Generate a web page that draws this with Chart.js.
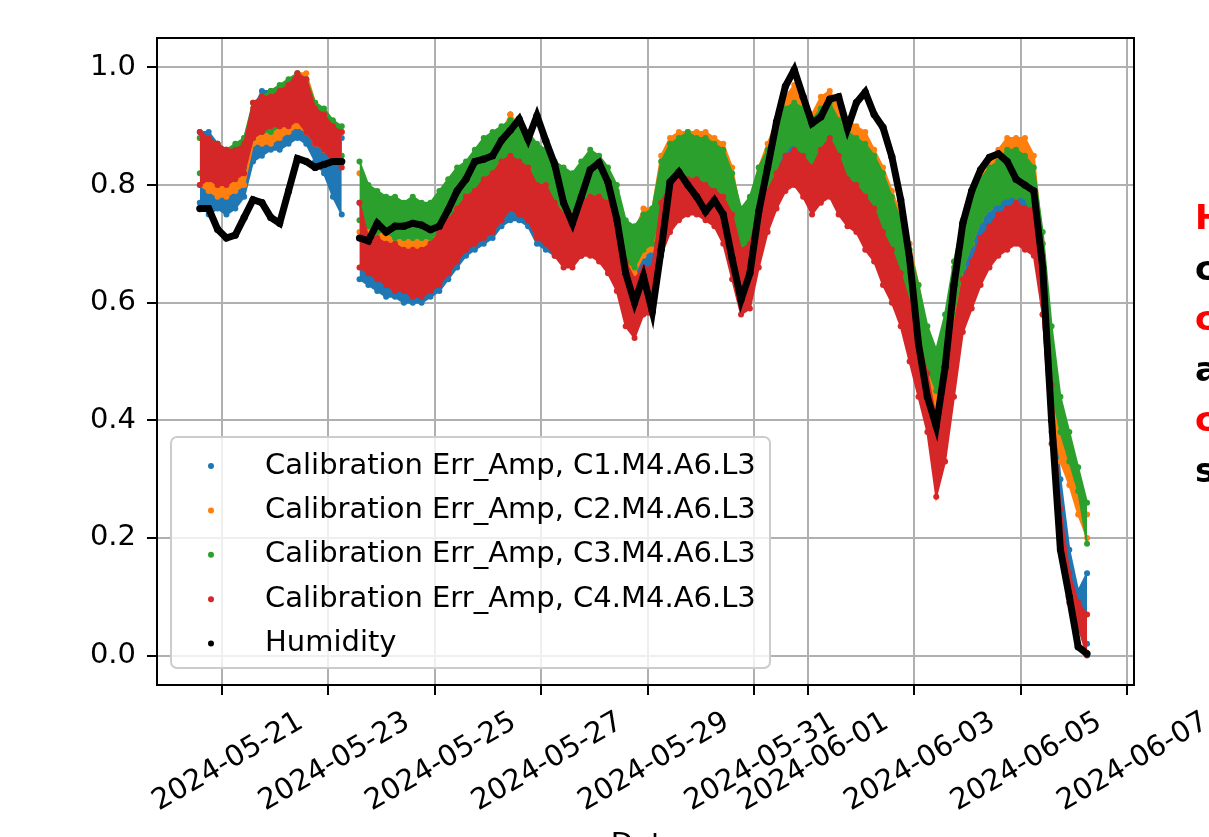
<!DOCTYPE html>
<html>
<head>
<meta charset="utf-8">
<title>Calibration Err_Amp vs Humidity</title>
<script src="https://cdn.jsdelivr.net/npm/chart.js@4.4.1/dist/chart.umd.min.js"></script>
<style>
  html, body { margin: 0; padding: 0; background: #fff; }
  #wrap { width: 1209px; height: 837px; overflow: hidden; }
</style>
</head>
<body>
<div id="wrap"><canvas id="errChart" width="1209" height="837"></canvas></div>
<script>
// samples every 4 hours, first one 2024-05-20 14:00 (UTC); null = logger gap
const startTime = Date.UTC(2024, 4, 20, 14);
const stepHours = 4;

const xTickDates = ["2024-05-21", "2024-05-23", "2024-05-25", "2024-05-27", "2024-05-29",
  "2024-05-31", "2024-06-01", "2024-06-03", "2024-06-05", "2024-06-07"];
const yTicks = [0.0, 0.2, 0.4, 0.6, 0.8, 1.0];
const xMin = Date.parse("2024-05-19T18:42:00Z");
const xMax = Date.parse("2024-06-07T03:10:00Z");

const humidity = [0.76, 0.76, 0.725, 0.71, 0.715, 0.745, 0.775, 0.77, 0.745, 0.735,
  0.79, 0.845, 0.84, 0.83, 0.835, 0.84, 0.84, null, 0.71, 0.705,
  0.735, 0.72, 0.73, 0.73, 0.735, 0.732, 0.724, 0.73, 0.758, 0.79,
  0.81, 0.84, 0.844, 0.85, 0.876, 0.893, 0.912, 0.878, 0.918, 0.875,
  0.835, 0.77, 0.735, 0.78, 0.826, 0.838, 0.805, 0.742, 0.65, 0.60,
  0.645, 0.585, 0.69, 0.805, 0.822, 0.80, 0.78, 0.755, 0.774, 0.75,
  0.675, 0.605, 0.65, 0.755, 0.83, 0.907, 0.968, 0.996, 0.95, 0.905,
  0.916, 0.946, 0.95, 0.896, 0.94, 0.958, 0.92, 0.898, 0.848, 0.775,
  0.675, 0.53, 0.44, 0.39, 0.49, 0.63, 0.735, 0.79, 0.826, 0.847,
  0.853, 0.84, 0.81, 0.80, 0.79, 0.66, 0.40, 0.18, 0.10, 0.015, 0.003];

// C1 (blue)
const c1Lo = [0.77, 0.75, 0.76, 0.75, 0.76, 0.78, 0.84, 0.85, 0.86, 0.86,
  0.87, 0.88, 0.87, 0.84, 0.82, 0.78, 0.75, null, 0.64, 0.63,
  0.62, 0.61, 0.61, 0.60, 0.60, 0.60, 0.61, 0.62, 0.64, 0.66,
  0.68, 0.69, 0.70, 0.71, 0.73, 0.74, 0.74, 0.73, 0.70, 0.69,
  0.68, 0.68, 0.68, 0.68, 0.69, 0.68, 0.67, 0.64, 0.58, 0.57,
  0.61, 0.61, 0.70, 0.74, 0.76, 0.76, 0.76, 0.75, 0.74, 0.72,
  0.66, 0.60, 0.62, 0.68, 0.74, 0.78, 0.81, 0.83, 0.80, 0.78,
  0.79, 0.80, 0.77, 0.75, 0.74, 0.72, 0.70, 0.67, 0.63, 0.59,
  0.54, 0.47, 0.40, 0.31, 0.36, 0.47, 0.58, 0.63, 0.67, 0.69,
  0.71, 0.72, 0.72, 0.72, 0.70, 0.58, 0.38, 0.22, 0.12, 0.06, 0.02];
const c1Hi = [0.89, 0.89, 0.87, 0.86, 0.86, 0.88, 0.93, 0.96, 0.96, 0.96,
  0.97, 0.98, 0.97, 0.93, 0.91, 0.90, 0.88, null, 0.77, 0.72,
  0.72, 0.71, 0.71, 0.70, 0.70, 0.70, 0.71, 0.73, 0.76, 0.78,
  0.79, 0.80, 0.82, 0.84, 0.86, 0.92, 0.87, 0.86, 0.83, 0.82,
  0.80, 0.78, 0.77, 0.79, 0.80, 0.79, 0.78, 0.75, 0.70, 0.68,
  0.70, 0.71, 0.80, 0.83, 0.84, 0.84, 0.84, 0.83, 0.82, 0.81,
  0.78, 0.72, 0.74, 0.79, 0.82, 0.86, 0.89, 0.90, 0.89, 0.87,
  0.89, 0.90, 0.88, 0.85, 0.84, 0.83, 0.81, 0.78, 0.74, 0.70,
  0.65, 0.59, 0.52, 0.44, 0.50, 0.60, 0.68, 0.72, 0.76, 0.78,
  0.80, 0.81, 0.82, 0.81, 0.79, 0.70, 0.48, 0.30, 0.18, 0.11, 0.14];

// C2 (orange)
const c2Lo = [0.80, 0.79, 0.78, 0.78, 0.79, 0.80, 0.87, 0.87, 0.87, 0.88,
  0.89, 0.90, 0.89, 0.87, 0.86, 0.85, 0.84, null, 0.72, 0.71,
  0.70, 0.70, 0.69, 0.69, 0.69, 0.69, 0.69, 0.70, 0.72, 0.74,
  0.76, 0.77, 0.78, 0.80, 0.81, 0.82, 0.81, 0.80, 0.78, 0.77,
  0.76, 0.75, 0.75, 0.76, 0.77, 0.77, 0.75, 0.72, 0.66, 0.65,
  0.68, 0.69, 0.75, 0.80, 0.81, 0.82, 0.81, 0.80, 0.79, 0.77,
  0.73, 0.68, 0.69, 0.75, 0.79, 0.83, 0.87, 0.88, 0.86, 0.84,
  0.85, 0.86, 0.83, 0.80, 0.79, 0.78, 0.76, 0.73, 0.70, 0.66,
  0.60, 0.55, 0.48, 0.42, 0.47, 0.57, 0.66, 0.70, 0.74, 0.76,
  0.78, 0.79, 0.80, 0.79, 0.75, 0.58, 0.43, 0.33, 0.29, 0.24, 0.20];
const c2Hi = [0.88, 0.86, 0.85, 0.84, 0.85, 0.87, 0.93, 0.94, 0.95, 0.96,
  0.97, 0.99, 0.99, 0.94, 0.92, 0.90, 0.89, null, 0.82, 0.77,
  0.76, 0.75, 0.74, 0.74, 0.74, 0.73, 0.73, 0.75, 0.78, 0.80,
  0.82, 0.84, 0.86, 0.87, 0.89, 0.92, 0.90, 0.88, 0.86, 0.85,
  0.83, 0.82, 0.81, 0.83, 0.85, 0.84, 0.82, 0.79, 0.73, 0.72,
  0.76, 0.76, 0.85, 0.88, 0.89, 0.89, 0.89, 0.89, 0.88, 0.87,
  0.83, 0.75, 0.77, 0.83, 0.87, 0.91, 0.95, 0.97, 0.95, 0.92,
  0.95, 0.96, 0.93, 0.91, 0.90, 0.89, 0.86, 0.83, 0.79, 0.75,
  0.70, 0.63, 0.55, 0.50, 0.56, 0.66, 0.74, 0.79, 0.82, 0.84,
  0.86, 0.88, 0.88, 0.88, 0.85, 0.70, 0.52, 0.40, 0.34, 0.28, 0.24];

// C3 (green)
const c3Lo = [0.82, 0.82, 0.82, 0.81, 0.82, 0.83, 0.88, 0.89, 0.89, 0.90,
  0.91, 0.91, 0.90, 0.89, 0.87, 0.86, 0.85, null, 0.74, 0.73,
  0.72, 0.72, 0.71, 0.71, 0.71, 0.71, 0.71, 0.72, 0.74, 0.76,
  0.78, 0.79, 0.80, 0.81, 0.83, 0.83, 0.82, 0.81, 0.79, 0.79,
  0.77, 0.76, 0.76, 0.77, 0.78, 0.78, 0.76, 0.73, 0.67, 0.66,
  0.69, 0.70, 0.76, 0.80, 0.81, 0.81, 0.81, 0.80, 0.79, 0.77,
  0.73, 0.69, 0.70, 0.75, 0.79, 0.83, 0.86, 0.87, 0.85, 0.83,
  0.84, 0.85, 0.82, 0.79, 0.78, 0.77, 0.75, 0.72, 0.69, 0.65,
  0.60, 0.55, 0.49, 0.45, 0.49, 0.58, 0.66, 0.70, 0.74, 0.76,
  0.77, 0.78, 0.78, 0.78, 0.74, 0.60, 0.45, 0.38, 0.33, 0.28, 0.19];
const c3Hi = [0.88, 0.88, 0.87, 0.86, 0.87, 0.88, 0.94, 0.95, 0.96, 0.97,
  0.98, 0.99, 0.98, 0.94, 0.93, 0.91, 0.90, null, 0.84, 0.80,
  0.79, 0.78, 0.78, 0.77, 0.78, 0.77, 0.77, 0.79, 0.81, 0.83,
  0.84, 0.86, 0.88, 0.89, 0.90, 0.91, 0.90, 0.89, 0.87, 0.86,
  0.84, 0.83, 0.82, 0.84, 0.86, 0.85, 0.83, 0.80, 0.74, 0.73,
  0.75, 0.76, 0.84, 0.87, 0.88, 0.89, 0.88, 0.88, 0.87, 0.86,
  0.82, 0.76, 0.78, 0.83, 0.86, 0.90, 0.93, 0.94, 0.93, 0.91,
  0.93, 0.94, 0.91, 0.89, 0.88, 0.87, 0.85, 0.82, 0.78, 0.74,
  0.69, 0.63, 0.56, 0.52, 0.58, 0.67, 0.74, 0.78, 0.81, 0.83,
  0.84, 0.86, 0.86, 0.85, 0.83, 0.72, 0.56, 0.44, 0.38, 0.32, 0.26];

// C4 (red)
const c4Lo = [0.80, 0.81, 0.80, 0.80, 0.81, 0.82, 0.88, 0.89, 0.90, 0.90,
  0.90, 0.91, 0.89, 0.87, 0.86, 0.84, 0.83, null, 0.66, 0.65,
  0.64, 0.63, 0.62, 0.62, 0.61, 0.61, 0.62, 0.63, 0.65, 0.67,
  0.69, 0.70, 0.71, 0.72, 0.74, 0.76, 0.75, 0.74, 0.71, 0.70,
  0.68, 0.66, 0.66, 0.68, 0.68, 0.67, 0.65, 0.62, 0.56, 0.54,
  0.58, 0.58, 0.68, 0.72, 0.74, 0.75, 0.75, 0.74, 0.73, 0.70,
  0.64, 0.58, 0.59, 0.66, 0.72, 0.76, 0.79, 0.80, 0.78, 0.75,
  0.77, 0.78, 0.75, 0.73, 0.72, 0.69, 0.67, 0.63, 0.60, 0.56,
  0.50, 0.44, 0.38, 0.27, 0.33, 0.44, 0.55, 0.59, 0.63, 0.66,
  0.68, 0.69, 0.70, 0.69, 0.68, 0.58, 0.36, 0.18, 0.09, 0.05, 0.00];
const c4Hi = [0.89, 0.88, 0.87, 0.86, 0.86, 0.87, 0.94, 0.95, 0.95, 0.96,
  0.97, 0.99, 0.98, 0.93, 0.92, 0.90, 0.89, null, 0.77, 0.71,
  0.71, 0.70, 0.70, 0.69, 0.69, 0.69, 0.70, 0.72, 0.74, 0.76,
  0.78, 0.79, 0.81, 0.82, 0.84, 0.85, 0.84, 0.83, 0.80, 0.80,
  0.77, 0.75, 0.74, 0.77, 0.78, 0.78, 0.77, 0.73, 0.67, 0.64,
  0.66, 0.66, 0.77, 0.80, 0.81, 0.81, 0.81, 0.80, 0.79, 0.78,
  0.75, 0.69, 0.70, 0.76, 0.79, 0.82, 0.85, 0.86, 0.85, 0.83,
  0.86, 0.88, 0.85, 0.81, 0.80, 0.78, 0.76, 0.72, 0.69, 0.65,
  0.60, 0.54, 0.48, 0.40, 0.47, 0.56, 0.64, 0.67, 0.71, 0.73,
  0.75, 0.76, 0.77, 0.76, 0.76, 0.68, 0.46, 0.25, 0.14, 0.09, 0.07];

const sideNote = ["High humidity", "causes", "clear", "amplitude", "calibration", "shifts"];
const sideNoteColors = ["#ff0000", "#000000", "#ff0000", "#000000", "#ff0000", "#000000"];

const series = [
  { name: "Calibration Err_Amp, C1.M4.A6.L3", color: "#1f77b4", lo: c1Lo, hi: c1Hi, order: 4 },
  { name: "Calibration Err_Amp, C2.M4.A6.L3", color: "#ff7f0e", lo: c2Lo, hi: c2Hi, order: 3 },
  { name: "Calibration Err_Amp, C3.M4.A6.L3", color: "#2ca02c", lo: c3Lo, hi: c3Hi, order: 2 },
  { name: "Calibration Err_Amp, C4.M4.A6.L3", color: "#d62728", lo: c4Lo, hi: c4Hi, order: 1 },
];

function toPoints(values) {
  return values.map((v, i) => ({ x: startTime + i * stepHours * 3600000, y: v }));
}

const datasets = [];
series.forEach((s) => {
  const edge = {
    borderColor: s.color,
    backgroundColor: s.color,
    pointBackgroundColor: s.color,
    borderWidth: 2,
    pointRadius: 3,
    pointBorderWidth: 0,
    spanGaps: false,
    order: s.order,
  };
  datasets.push(Object.assign({ label: s.name + " low", data: toPoints(s.lo), fill: false }, edge));
  datasets.push(Object.assign({ label: s.name, data: toPoints(s.hi), fill: "-1" }, edge));
});
datasets.push({
  label: "Humidity",
  data: toPoints(humidity),
  borderColor: "#000",
  backgroundColor: "#000",
  pointBackgroundColor: "#000",
  borderWidth: 7,
  pointRadius: 3.6,
  pointBorderWidth: 0,
  fill: false,
  spanGaps: false,
  order: 0,
});

const legendItems = series.map((s) => ({ name: s.name, color: s.color }))
  .concat([{ name: "Humidity", color: "#000" }]);

const FONT = "DejaVu Sans";
const FONT_SIZE = 29;

const decorations = {
  id: "decorations",
  afterDatasetsDraw(chart) {
    const { ctx, chartArea: a } = chart;
    ctx.save();
    ctx.strokeStyle = "#000";
    ctx.lineWidth = 2;
    ctx.strokeRect(a.left, a.top, a.right - a.left, a.bottom - a.top);
    ctx.restore();
  },
  afterDraw(chart) {
    const { ctx, chartArea: a } = chart;
    ctx.save();
    // legend box, lower left inside the axes
    const bx = a.left + 14, bw = 599, bh = 231;
    const by = a.bottom - 17 - bh;
    ctx.beginPath();
    ctx.roundRect(bx, by, bw, bh, 6);
    ctx.fillStyle = "rgba(255,255,255,0.8)";
    ctx.fill();
    ctx.strokeStyle = "#cccccc";
    ctx.lineWidth = 2;
    ctx.stroke();
    ctx.font = FONT_SIZE + "px '" + FONT + "'";
    ctx.textBaseline = "middle";
    legendItems.forEach((item, i) => {
      const y = by + 29 + i * 44.4;
      ctx.beginPath();
      ctx.arc(bx + 40, y, 3, 0, Math.PI * 2);
      ctx.fillStyle = item.color;
      ctx.fill();
      ctx.fillStyle = "#000";
      ctx.fillText(item.name, bx + 94, y);
    });
    // note on the right, mostly outside the picture
    ctx.font = "bold 34px '" + FONT + "'";
    ctx.textBaseline = "alphabetic";
    sideNote.forEach((t, i) => {
      ctx.fillStyle = sideNoteColors[i];
      ctx.fillText(t, a.right + 61, 229 + i * 50.6);
    });
    ctx.restore();
  },
};

const gridOpts = { color: "#b0b0b0", lineWidth: 2, tickColor: "#000", tickLength: 10, tickWidth: 2 };

new Chart(document.getElementById("errChart"), {
  type: "line",
  data: { datasets: datasets },
  options: {
    responsive: false,
    devicePixelRatio: 1,
    animation: false,
    events: [],
    layout: { padding: { top: 38, right: 75, left: 0, bottom: 0 } },
    plugins: { legend: { display: false }, tooltip: { enabled: false } },
    scales: {
      x: {
        type: "linear",
        min: xMin,
        max: xMax,
        afterBuildTicks: (scale) => {
          scale.ticks = xTickDates.map((d) => ({ value: Date.parse(d) }));
        },
        afterFit: (scale) => { scale.height = 152; },
        ticks: {
          autoSkip: false,
          minRotation: 30,
          maxRotation: 30,
          labelOffset: 79,
          padding: 10,
          color: "#000",
          font: { family: FONT, size: FONT_SIZE },
          callback: (v) => new Date(v).toISOString().slice(0, 10),
        },
        grid: gridOpts,
        border: { display: false },
        title: {
          display: true,
          text: "Date",
          color: "#000",
          font: { family: FONT, size: FONT_SIZE },
          padding: { top: 0, bottom: -26 },
        },
      },
      y: {
        min: -0.05,
        max: 1.05,
        afterBuildTicks: (scale) => {
          scale.ticks = yTicks.map((v) => ({ value: v }));
        },
        afterFit: (scale) => { scale.width = 157; },
        ticks: {
          padding: 11,
          color: "#000",
          font: { family: FONT, size: FONT_SIZE },
          callback: (v) => v.toFixed(1),
        },
        grid: gridOpts,
        border: { display: false },
      },
    },
  },
  plugins: [decorations],
});
</script>
</body>
</html>
